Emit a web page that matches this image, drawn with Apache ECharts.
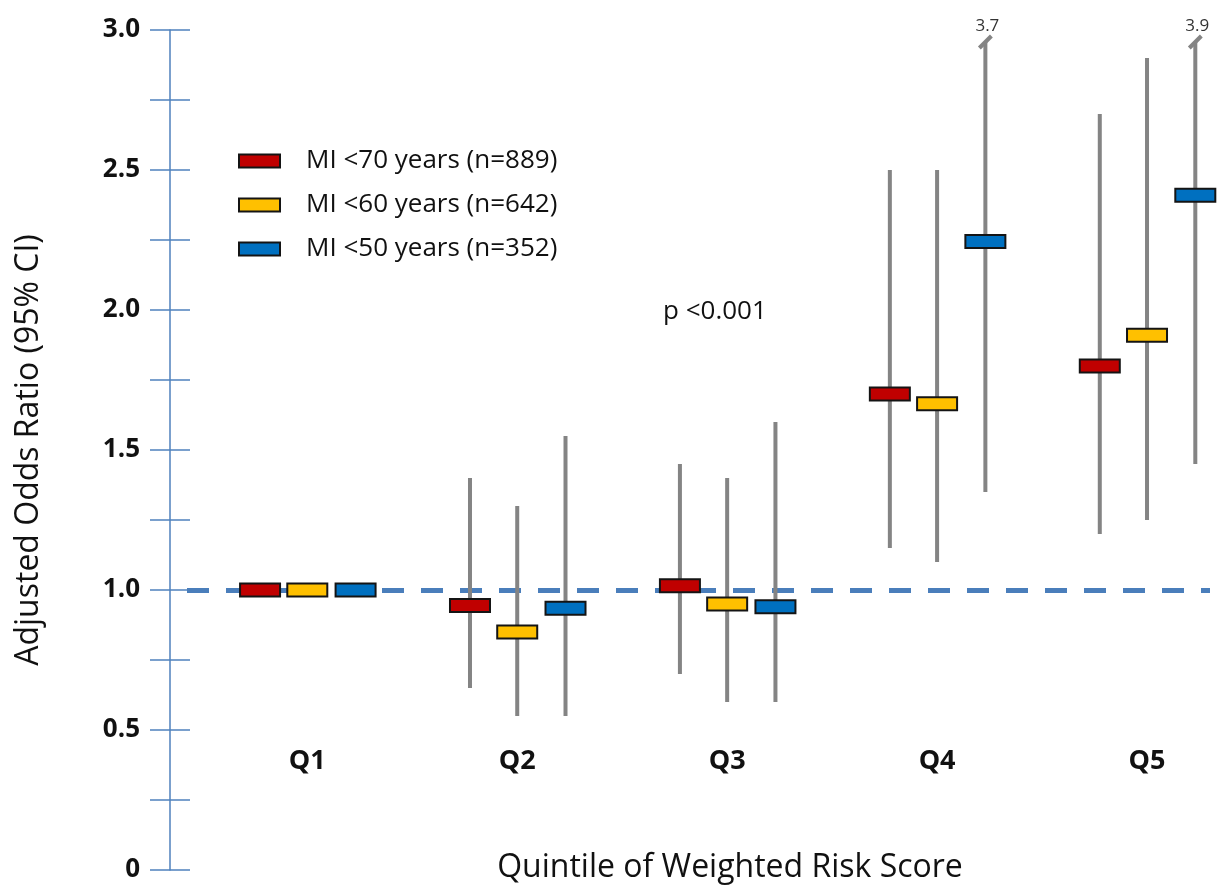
<!DOCTYPE html>
<html>
<head>
<meta charset="utf-8">
<script src="https://cdn.jsdelivr.net/npm/echarts@6/dist/echarts.min.js"></script>
<style>html,body{margin:0;padding:0;background:#fff}#c{width:1220px;height:889px}</style>
</head>
<body>
<div id="c"></div>
<script>
// ---- data ----
const quintiles = ['Q1', 'Q2', 'Q3', 'Q4', 'Q5'];
const seriesNames = ['MI <70 years (n=889)', 'MI <60 years (n=642)', 'MI <50 years (n=352)'];
const or70 = [1.00, 0.945, 1.015, 1.70, 1.80];
const lo70 = [null, 0.65, 0.70, 1.15, 1.20];
const hi70 = [null, 1.40, 1.45, 2.50, 2.70];
const or60 = [1.00, 0.85, 0.95, 1.665, 1.91];
const lo60 = [null, 0.55, 0.60, 1.10, 1.25];
const hi60 = [null, 1.30, 1.40, 2.50, 2.90];
const or50 = [1.00, 0.935, 0.94, 2.245, 2.41];
const lo50 = [null, 0.55, 0.60, 1.35, 1.45];
const hi50 = [null, 1.55, 1.60, 3.7, 3.9];
const yMin = 0, yMax = 3.0, yStep = 0.25;
const refValue = 1.0;
const pText = 'p <0.001';

// ---- styling ----
const FONT = '"Open Sans", Lato, sans-serif';
const colors = ['#C00000', '#FFC000', '#0070C0'];
const offsets = [-0.225, 0, 0.23];
const axisBlue = '#4F81BD';

function build(est, lo, hi) {
  return quintiles.map((q, i) => [i, est[i], lo[i] == null ? '-' : lo[i], hi[i] == null ? '-' : hi[i]]);
}
const groups = [build(or70, lo70, hi70), build(or60, lo60, hi60), build(or50, lo50, hi50)];

function makeRender(k) {
  return function (params, api) {
    const x = api.value(0) + offsets[k];
    const est = api.value(1), lo = api.value(2), hi = api.value(3);
    const pEst = api.coord([x, est]);
    const children = [];
    if (isFinite(lo) && isFinite(hi)) {
      const clipped = hi > yMax;
      const pLo = api.coord([x, lo]);
      const pHi = api.coord([x, Math.min(hi, yMax)]);
      const yTop = clipped ? pHi[1] + 12 : pHi[1];
      children.push({ type: 'line', shape: { x1: pLo[0], y1: pLo[1], x2: pLo[0], y2: yTop },
        style: { stroke: '#848484', lineWidth: 4 } });
      if (clipped) {
        children.push({ type: 'line', shape: { x1: pLo[0] - 6, y1: yTop + 6, x2: pLo[0] + 6, y2: yTop - 6 },
          style: { stroke: '#848484', lineWidth: 4 } });
        children.push({ type: 'text', x: pLo[0] + 2, y: yTop - 16,
          style: { text: hi.toFixed(1), fill: '#333', font: '17px ' + FONT, align: 'center', verticalAlign: 'middle' } });
      }
    }
    children.push({ type: 'rect', shape: { x: pEst[0] - 20, y: pEst[1] - 6.5, width: 40, height: 13 },
      style: { fill: colors[k], stroke: '#141414', lineWidth: 2 } });
    return { type: 'group', children };
  };
}

const chart = echarts.init(document.getElementById('c'));
const yLabel = v => (Math.abs(v) < 1e-9 ? '0' : (Math.abs((v * 2) - Math.round(v * 2)) < 1e-9 ? v.toFixed(1) : ''));

chart.setOption({
  animation: false,
  backgroundColor: '#fff',
  textStyle: { fontFamily: FONT },
  grid: { left: 170, right: 10, top: 30, bottom: 19, containLabel: false, outerBoundsMode: 'none' },
  legend: {
    orient: 'vertical', left: 238, top: 148, padding: 0,
    data: seriesNames,
    itemWidth: 41, itemHeight: 13, itemGap: 18,
    icon: 'rect',
    itemStyle: { borderColor: '#141414', borderWidth: 2 },
    textStyle: { fontSize: 26, color: '#111', fontFamily: FONT, padding: [0, 0, 0, 21] },
    selectedMode: false
  },
  xAxis: {
    type: 'value', min: -0.654, max: 4.3,
    splitLine: { show: false },
    axisLine: { show: false, onZero: false }, axisTick: { show: false },
    axisLabel: {
      customValues: [0, 1, 2, 3, 4],
      formatter: v => quintiles[Math.round(v)] || '',
      inside: true, margin: 95,
      fontSize: 27, fontWeight: 'bold', color: '#111', fontFamily: FONT
    },
    name: 'Quintile of Weighted Risk Score', nameLocation: 'middle', nameGap: -2,
    nameMoveOverlap: false,
    nameTextStyle: { fontSize: 32, color: '#111', fontFamily: FONT, verticalAlign: 'middle', padding: [0, 0, 0, 80] }
  },
  yAxis: [{
    type: 'value', min: yMin, max: yMax, interval: yStep,
    splitLine: { show: false },
    axisLine: { show: true, onZero: false, lineStyle: { color: axisBlue, width: 1.5 } },
    axisTick: { show: true, length: 20, lineStyle: { color: axisBlue, width: 1.5 } },
    axisLabel: { formatter: yLabel, margin: 30, fontSize: 26, fontWeight: 'bold', color: '#111', fontFamily: FONT },
    name: 'Adjusted Odds Ratio (95% CI)', nameLocation: 'middle', nameGap: 141,
    nameMoveOverlap: false,
    nameTextStyle: { fontSize: 32, color: '#111', fontFamily: FONT, verticalAlign: 'middle' }
  }, {
    type: 'value', min: yMin, max: yMax, interval: yStep, position: 'left',
    splitLine: { show: false },
    axisLine: { show: false, onZero: false },
    axisTick: { show: true, inside: true, length: 20, lineStyle: { color: axisBlue, width: 1.5 } },
    axisLabel: { show: false }
  }],
  graphic: [{
    type: 'text', left: 663, top: 299,
    style: { text: pText, font: '26px ' + FONT, fill: '#111' }
  }],
  series: [{
    type: 'line', name: 'ref', data: [], z: 1, silent: true,
    markLine: {
      silent: true, z: 1, symbol: ['none', 'none'], label: { show: false },
      lineStyle: { color: '#4A7EBB', width: 5, type: [22, 17], dashOffset: 22 },
      data: [{ yAxis: refValue }]
    }
  }].concat(groups.map((g, k) => ({
    type: 'custom', name: seriesNames[k], data: g, z: 3,
    itemStyle: { color: colors[k] },
    encode: { x: 0, y: 1 },
    renderItem: makeRender(k)
  })))
});
</script>
</body>
</html>
